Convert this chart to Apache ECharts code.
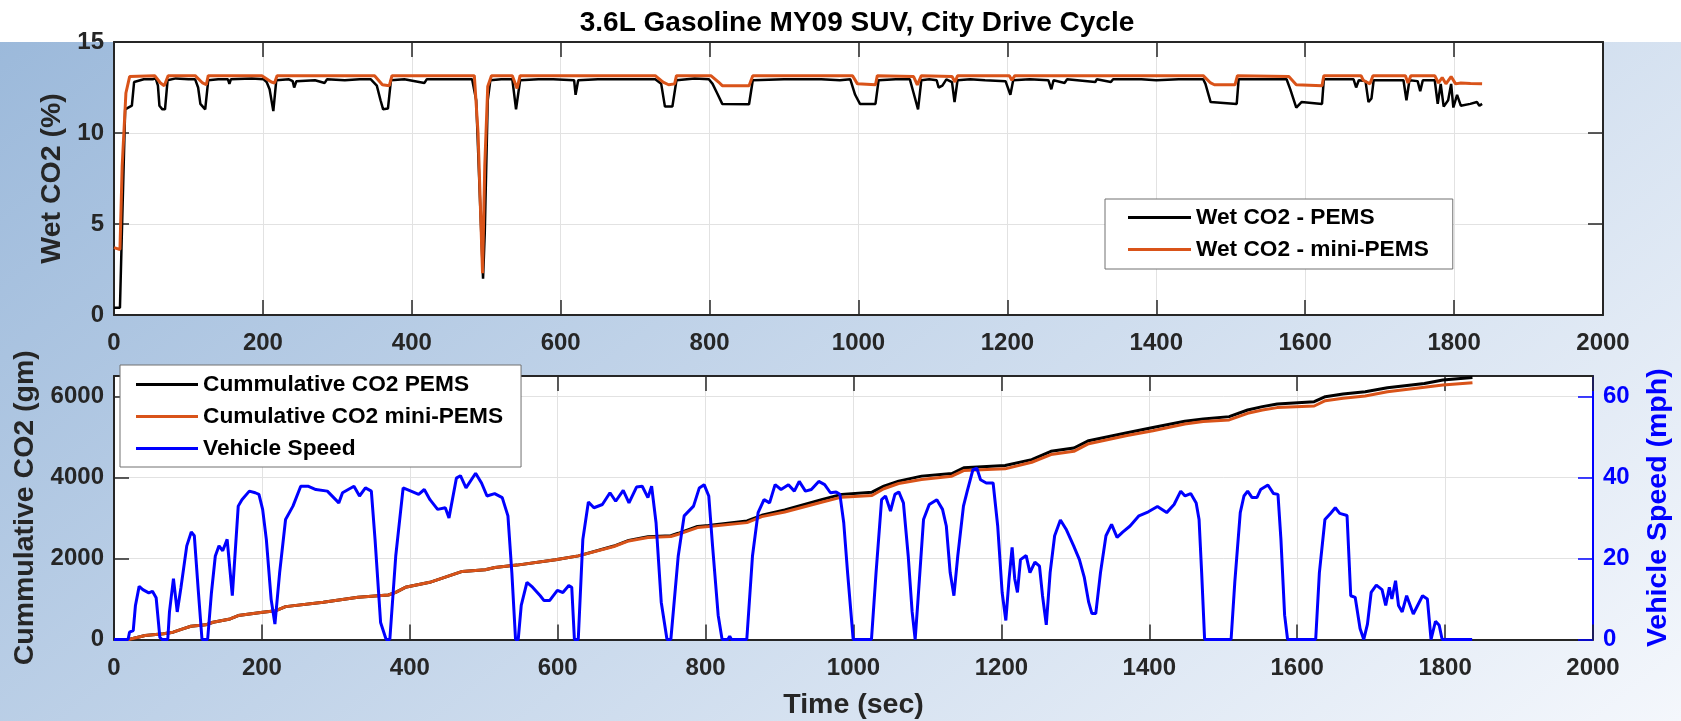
<!DOCTYPE html>
<html>
<head>
<meta charset="utf-8">
<script src="https://cdn.jsdelivr.net/npm/echarts@6/dist/echarts.min.js"></script>
<style>
html, body { margin: 0; padding: 0; }
#chart {
    width: 1681px;
    height: 721px;
    background: linear-gradient(#fff, #fff) top left / 100% 42px no-repeat,
        linear-gradient(142deg, #9ab8da 0%, #f4f7fc 100%);
}
</style>
</head>
<body>
<div id="chart"></div>
<script>
// Wet CO2 (%) - top panel
const wetTimePems = [0, 8, 10, 15, 24, 27, 40, 52, 56, 59, 61, 65, 68.5, 72, 83, 100, 109, 113, 116, 122.5,
    126.6, 140, 153, 155, 157, 185, 201, 205, 209, 214, 218, 235, 240, 242, 245, 247, 270, 283, 286, 310,
    330, 345, 353, 358, 361.5, 368, 372, 390, 417, 420, 450, 481, 486.5, 491.6, 495.7, 498, 502, 505.5, 520, 535,
    537, 540, 542, 545.5, 570, 590, 618, 620, 622, 623.5, 650, 700, 727, 735, 740, 750, 755.5, 780, 799, 804,
    810, 817, 853, 858, 900, 950, 975, 989, 995.5, 1002, 1022.8, 1027, 1050, 1069, 1074, 1080, 1084.4, 1095, 1105, 1107.6,
    1112.7, 1118, 1125.6, 1129, 1133, 1150, 1170, 1197.5, 1204, 1207.8, 1230, 1255, 1259, 1262, 1277, 1280, 1318, 1320, 1339, 1342,
    1380, 1400, 1430, 1463, 1466, 1473, 1508, 1510.6, 1540, 1575, 1580, 1588, 1595, 1622.6, 1625, 1665, 1668.4, 1672, 1681, 1685,
    1689, 1692, 1732, 1736, 1740, 1751, 1754.5, 1758, 1774, 1778, 1782, 1786, 1792, 1796, 1799, 1804, 1809, 1821.7, 1830.6, 1834,
    1837.6];
const wetPems = [0.4, 0.4, 3.6, 11.3, 11.5, 12.8, 12.95, 12.95, 13.0, 12.6, 11.5, 11.3, 11.3, 12.9, 13.0, 12.95, 12.95, 12.5, 11.6, 11.3,
    12.9, 12.95, 12.95, 12.7, 12.95, 13.0, 12.95, 12.8, 12.4, 11.2, 12.9, 12.95, 12.85, 12.5, 12.85, 12.95, 12.9, 12.75, 12.95, 12.9,
    12.95, 12.95, 12.6, 11.8, 11.3, 11.35, 12.9, 12.95, 12.75, 12.95, 12.95, 12.95, 11.8, 6.3, 2.0, 4.5, 11.8, 12.9, 12.95, 12.95,
    12.3, 11.3, 11.25, 12.9, 12.95, 12.95, 12.9, 12.1, 12.0, 12.9, 12.95, 12.95, 12.95, 12.7, 11.45, 11.45, 12.9, 13.0, 12.95, 12.7,
    12.2, 11.6, 11.58, 12.9, 12.95, 12.95, 12.9, 12.95, 12.1, 11.6, 11.6, 12.9, 12.95, 12.95, 12.2, 11.3, 12.9, 12.95, 12.9, 12.5,
    12.6, 12.95, 12.8, 11.7, 12.9, 12.95, 12.9, 12.85, 12.1, 12.9, 12.95, 12.9, 12.4, 12.9, 12.75, 12.95, 12.8, 12.95, 12.8, 12.95,
    12.95, 12.9, 12.95, 12.95, 12.7, 11.7, 11.6, 12.95, 12.95, 12.95, 12.4, 11.4, 11.7, 11.6, 12.95, 12.95, 12.5, 12.9, 12.85, 11.7,
    11.9, 12.9, 12.9, 11.8, 12.9, 12.85, 12.3, 12.9, 12.9, 11.6, 12.7, 11.45, 11.8, 12.7, 11.4, 12.1, 11.5, 11.6, 11.7, 11.5,
    11.6];
const wetTimeMini = [0, 8, 11, 16, 21, 54.7, 62.4, 67.5, 72.7, 109, 119, 124, 126.6, 198.6, 211.4, 215.6, 219, 350, 360.5, 369.8,
    373.4, 484, 489, 495, 498, 502, 507, 535, 541.4, 545.5, 727, 737.5, 745, 753, 755.5, 801.7, 812, 817, 853, 858,
    992, 998.6, 1022.8, 1025.3, 1074, 1079, 1084.4, 1125.6, 1129.7, 1133, 1202.6, 1206, 1210, 1463, 1473, 1478, 1505.7, 1509, 1578, 1588,
    1622.6, 1625, 1675, 1678, 1687, 1691, 1734.6, 1738, 1742, 1774, 1779, 1784, 1789, 1796, 1802, 1809, 1822, 1837.6];
const wetMini = [3.7, 3.6, 8.2, 12.2, 13.1, 13.15, 12.75, 12.6, 13.15, 13.15, 12.75, 12.65, 13.15, 13.15, 12.8, 12.75, 13.15, 13.15, 12.65, 12.6,
    13.15, 13.15, 10.0, 2.3, 8.2, 12.55, 13.15, 13.15, 12.45, 13.15, 13.15, 12.8, 12.65, 12.7, 13.15, 13.15, 12.8, 12.6, 12.6, 13.15,
    13.15, 12.7, 12.65, 13.15, 13.1, 12.65, 13.15, 13.1, 12.8, 13.15, 13.15, 12.9, 13.15, 13.15, 12.75, 12.65, 12.65, 13.15, 13.1, 12.65,
    12.6, 13.15, 13.15, 12.9, 12.7, 13.15, 13.15, 12.75, 13.15, 13.15, 12.75, 13.05, 12.7, 13.1, 12.7, 12.75, 12.72, 12.7];

// Cumulative CO2 (gm) - bottom panel
const cumTime = [0, 20, 42, 67, 80, 93, 104, 124, 134, 157, 168, 201, 219, 232, 283, 330, 371, 381, 394, 427,
    463, 471, 502, 515, 545, 597, 628, 676, 696, 722, 753, 763, 789, 804, 856, 876, 907, 958, 984, 1025,
    1041, 1061, 1092, 1133, 1149, 1205, 1241, 1267, 1298, 1318, 1370, 1405, 1448, 1473, 1508, 1533, 1553, 1573, 1623, 1638,
    1662, 1692, 1722, 1772, 1797, 1837];
const cumPems = [0, 0, 98, 140, 181, 262, 328, 361, 425, 508, 590, 672, 712, 811, 918, 1041, 1098, 1164, 1287, 1410,
    1631, 1680, 1719, 1778, 1835, 1965, 2063, 2305, 2445, 2535, 2562, 2620, 2788, 2815, 2925, 3063, 3194, 3456, 3580, 3635,
    3784, 3907, 4030, 4095, 4234, 4292, 4438, 4643, 4724, 4905, 5100, 5230, 5384, 5441, 5498, 5662, 5744, 5810, 5867, 5990,
    6055, 6113, 6211, 6317, 6399, 6465];
const cumMini = [0, 0, 98, 140, 181, 262, 328, 361, 425, 508, 590, 672, 712, 811, 918, 1041, 1098, 1164, 1287, 1410,
    1631, 1680, 1719, 1778, 1835, 1965, 2063, 2294, 2432, 2515, 2540, 2597, 2761, 2785, 2883, 3031, 3144, 3390, 3512, 3553,
    3719, 3849, 3947, 4028, 4168, 4210, 4372, 4561, 4642, 4831, 5030, 5150, 5318, 5375, 5416, 5580, 5662, 5720, 5760, 5891,
    5949, 6006, 6113, 6220, 6277, 6334];

// Vehicle speed (mph)
const speedTime = [0, 19, 21, 26, 29, 34, 39, 47, 52, 57, 62, 65, 72.7, 75, 80.4, 85.5, 90.6, 98.4, 104.5, 108.6,
    113.8, 119, 126.6, 131.8, 137, 142, 147, 153, 160, 168, 173, 183, 191, 196, 201, 206, 212.5, 217.6, 224, 232,
    242, 252.5, 263, 273, 288.5, 304, 309, 324.5, 332, 340, 348, 353, 360.5, 368, 373, 381, 391, 401.6, 412, 419.6,
    427.3, 437.6, 448, 453, 463, 468.5, 476, 489, 497, 504.4, 514.7, 525, 532.7, 538, 543, 546.6, 550.7, 558.4, 566, 576.4,
    581.5, 589, 599.5, 607, 615, 619, 622.6, 627.8, 634, 641.5, 649, 660.4, 670.7, 678.4, 688.6, 696.4, 706.6, 714.3, 722, 727,
    733, 740, 747.8, 753, 763, 771, 783.7, 791.5, 798, 804.3, 809.4, 817, 822.3, 830, 832.6, 835, 855.7, 863.4, 871, 879,
    886.5, 894, 902, 912, 920, 926.6, 935, 943, 953, 961, 968.8, 976.5, 981.6, 986.8, 992, 999.6, 1024.3, 1030.5, 1038, 1043.3,
    1050, 1056, 1061.3, 1067.5, 1074, 1079.3, 1083.4, 1087, 1094.7, 1102.4, 1112.7, 1120.4, 1125.5, 1130.7, 1135.8, 1141, 1148.7, 1153.8, 1161.5, 1166.7,
    1171.8, 1179.5, 1188.8, 1195, 1201, 1206, 1210.4, 1214.5, 1218, 1221.7, 1225.8, 1233.5, 1238.6, 1245.3, 1251.5, 1255.6, 1260.7, 1265.9, 1272, 1279.8,
    1287.5, 1297.7, 1305.5, 1312, 1318, 1322.4, 1327.6, 1334, 1341.4, 1349, 1356.4, 1364, 1374, 1386, 1398.7, 1411, 1423.5, 1433.5, 1442.5, 1448.4,
    1456, 1463.4, 1467.3, 1470.8, 1474.8, 1510.6, 1515.6, 1523, 1528, 1533, 1539, 1545.5, 1550.5, 1560.4, 1568, 1574, 1578, 1583, 1587, 1625,
    1630, 1637.5, 1645, 1651.5, 1657.5, 1667.4, 1672.4, 1678.4, 1685, 1690, 1695, 1700, 1707, 1714.7, 1719.7, 1724.6, 1728, 1733, 1737, 1742,
    1748, 1757, 1769.5, 1776, 1781, 1787, 1792, 1796, 1836.6];
const speed = [0, 0, 1.8, 2.2, 8.4, 13.1, 12.3, 11.5, 11.9, 10.3, 0.5, 0, 0, 6.8, 15.0, 6.8, 12.9, 23.1, 26.5, 25.6,
    12.5, 0, 0, 11.6, 20.6, 23.1, 21.9, 24.7, 10.8, 32.9, 34.5, 36.6, 36.2, 35.8, 32.1, 24.7, 9.9, 3.8, 16.5, 29.6,
    32.9, 37.8, 37.8, 37.0, 36.6, 33.7, 36.2, 37.8, 35.4, 37.4, 36.6, 24.7, 4.2, 0, 0, 20.6, 37.4, 36.6, 35.8, 37.0,
    34.5, 32.1, 32.5, 30.0, 39.8, 40.4, 37.4, 41.0, 38.6, 35.4, 36.0, 35.0, 30.5, 16.5, 0, 0, 8.4, 14.1, 12.9, 10.8,
    9.6, 9.6, 12.1, 11.6, 13.3, 12.9, 0, 0, 24.7, 33.9, 32.5, 33.3, 36.2, 34.1, 36.8, 33.7, 37.6, 37.8, 35.0, 37.8,
    28.8, 9.2, 0, 0, 20.6, 30.5, 32.9, 37.4, 38.2, 35.4, 23.1, 6.0, 0, 0, 0.8, 0, 0, 20.6, 31.3, 34.5,
    33.7, 38.2, 37.0, 38.2, 36.6, 39.0, 36.6, 37.0, 39.0, 38.2, 36.2, 36.4, 35.8, 28.8, 16.5, 0, 0, 16.5, 34.5, 35.4,
    31.7, 35.8, 36.4, 33.7, 20.6, 6.8, 0, 9.2, 29.6, 33.3, 34.5, 32.1, 28.0, 16.5, 10.8, 20.6, 32.9, 36.6, 41.9, 42.3,
    39.4, 38.6, 38.6, 28.0, 11.6, 4.7, 15.0, 22.7, 15.0, 11.6, 19.7, 20.7, 16.5, 19.1, 18.1, 10.8, 3.6, 16.5, 25.6, 29.5,
    27.2, 23.1, 19.7, 15.4, 9.2, 6.4, 6.4, 16.5, 25.6, 28.4, 25.2, 26.5, 28.0, 30.5, 31.5, 32.8, 31.3, 33.3, 36.6, 35.4,
    36.0, 33.7, 29.6, 16.5, 0, 0, 14.1, 31.3, 35.4, 36.6, 35.0, 35.0, 37.0, 38.1, 36.0, 35.8, 24.7, 6.0, 0, 0,
    16.5, 29.6, 31.1, 32.5, 31.1, 30.6, 10.8, 10.4, 2.7, 0, 3.8, 11.6, 13.4, 12.3, 8.4, 12.9, 10.0, 14.5, 8.4, 6.8,
    10.8, 6.3, 10.8, 10.0, 0, 4.5, 3.5, 0, 0];

const pairs = (xs, ys) => xs.map((x, i) => [x, ys[i]]);

const font = "'Liberation Sans', Arial, sans-serif";
const dark = '#262626';
const blue = '#0000ff';
const orange = '#d95319';

// one side of an axes box, MATLAB style: ticks inside, optional labels
function side(gridIndex, position, opts) {
    const col = opts.color || dark;
    return Object.assign({
        type: 'value',
        gridIndex: gridIndex,
        position: position,
        axisLine: { show: true, onZero: false, lineStyle: { color: col, width: 2 } },
        axisTick: { show: true, inside: true, length: 15, lineStyle: { color: col, width: 1.5 } },
        axisLabel: {
            show: !!opts.labels,
            color: col,
            fontSize: 24,
            fontWeight: 'bold',
            fontFamily: font,
            margin: opts.margin || 10,
            showMaxLabel: opts.showMax !== false,
            formatter: function (v) { return String(v); },
        },
        splitLine: { show: !!opts.split, lineStyle: { color: '#e2e2e2', width: 1 } },
        nameTextStyle: { color: col, fontSize: 28.5, fontWeight: 'bold', fontFamily: font },
    }, opts.extra);
}

const chart = echarts.init(document.getElementById('chart'), null, { renderer: 'canvas' });

const legendText = { fontSize: 22.7, fontWeight: 'bold', color: '#000', fontFamily: font };

chart.setOption({
    backgroundColor: 'transparent',
    animation: false,
    graphic: [{
        type: 'text',
        x: 857,
        y: 23,
        style: {
            text: '3.6L Gasoline MY09 SUV, City Drive Cycle',
            fill: '#000',
            font: 'bold 28px ' + font,
            textAlign: 'center',
            textVerticalAlign: 'middle',
            align: 'center',
            verticalAlign: 'middle',
        },
    }],
    grid: [
        { left: 114, right: 78, top: 42, height: 273, show: true, backgroundColor: '#fff', borderWidth: 0 },
        { left: 114, right: 78, top: 376, height: 265, show: true, backgroundColor: '#fff', borderWidth: 0 },
    ],
    legend: [
        {
            data: ['Wet CO2 - PEMS', 'Wet CO2 - mini-PEMS'],
            orient: 'vertical',
            left: 1105,
            top: 199,
            padding: [7, 24, 8, 23],
            itemGap: 9,
            itemWidth: 63,
            itemHeight: 3,
            icon: 'rect',
            backgroundColor: '#fff',
            borderColor: '#707070',
            borderWidth: 1,
            selectedMode: false,
            textStyle: legendText,
        },
        {
            data: ['Cummulative CO2 PEMS', 'Cumulative CO2 mini-PEMS', 'Vehicle Speed'],
            orient: 'vertical',
            left: 120,
            top: 365,
            padding: [8, 18, 7, 16],
            itemGap: 9,
            itemWidth: 62,
            itemHeight: 3,
            icon: 'rect',
            backgroundColor: '#fff',
            borderColor: '#707070',
            borderWidth: 1,
            selectedMode: false,
            textStyle: legendText,
        },
    ],
    xAxis: [
        side(0, 'bottom', { labels: true, split: true, margin: 16.5, extra: { min: 0, max: 2000, interval: 200 } }),
        side(0, 'top', { extra: { min: 0, max: 2000, interval: 200 } }),
        side(1, 'bottom', {
            labels: true, split: true, margin: 16.5,
            extra: { min: 0, max: 2000, interval: 200, name: 'Time (sec)', nameLocation: 'middle', nameGap: 51.5 },
        }),
        side(1, 'top', { extra: { min: 0, max: 2000, interval: 200 } }),
    ],
    yAxis: [
        side(0, 'left', {
            labels: true, split: true,
            extra: { min: 0, max: 15, interval: 5, name: 'Wet CO2 (%)', nameLocation: 'middle', nameGap: 44 },
        }),
        side(0, 'right', { extra: { min: 0, max: 15, interval: 5 } }),
        side(1, 'left', {
            labels: true, split: true, showMax: false,
            extra: { min: 0, max: 6500, interval: 2000, name: 'Cummulative CO2 (gm)', nameLocation: 'middle', nameGap: 74 },
        }),
        side(1, 'right', {
            labels: true, showMax: false, color: blue,
            extra: { min: 0, max: 65, interval: 20, name: 'Vehicle Speed (mph)', nameLocation: 'middle', nameGap: 51 },
        }),
    ],
    series: [
        {
            name: 'Wet CO2 - PEMS', type: 'line', xAxisIndex: 0, yAxisIndex: 0,
            symbol: 'none', color: '#000', lineStyle: { width: 2.5, color: '#000' },
            data: pairs(wetTimePems, wetPems),
        },
        {
            name: 'Wet CO2 - mini-PEMS', type: 'line', xAxisIndex: 0, yAxisIndex: 0,
            symbol: 'none', color: orange, lineStyle: { width: 3, color: orange },
            data: pairs(wetTimeMini, wetMini),
        },
        {
            name: 'Cummulative CO2 PEMS', type: 'line', xAxisIndex: 2, yAxisIndex: 2,
            symbol: 'none', color: '#000', lineStyle: { width: 3, color: '#000' },
            data: pairs(cumTime, cumPems),
        },
        {
            name: 'Cumulative CO2 mini-PEMS', type: 'line', xAxisIndex: 2, yAxisIndex: 2,
            symbol: 'none', color: orange, lineStyle: { width: 3, color: orange },
            data: pairs(cumTime, cumMini),
        },
        {
            name: 'Vehicle Speed', type: 'line', xAxisIndex: 2, yAxisIndex: 3,
            symbol: 'none', color: blue, lineStyle: { width: 3, color: blue },
            data: pairs(speedTime, speed),
        },
    ],
});

window.addEventListener('resize', function () {
    chart.resize();
});
</script>
</body>
</html>
